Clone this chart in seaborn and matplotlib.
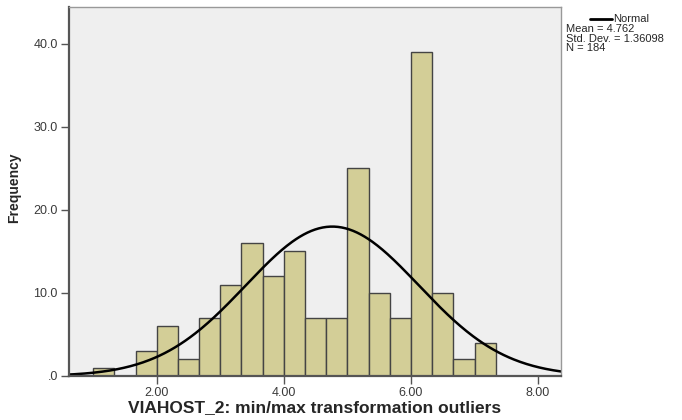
import numpy as np
import pandas as pd
import matplotlib
matplotlib.use("Agg")
import matplotlib.pyplot as plt
import seaborn as sns

# Data
bin_start = 1.0
bin_width = 1.0 / 3.0
counts = [1, 0, 3, 6, 2, 7, 11, 16, 12, 15, 7, 7, 25, 10, 7, 39, 10, 2, 4]
mean_val = 4.762
sd_val = 1.36098
n_val = 184
x_ticks = [2, 4, 6, 8]
x_tick_labels = ["2.00", "4.00", "6.00", "8.00"]
y_ticks = [0, 10, 20, 30, 40]
y_tick_labels = [".0", "10.0", "20.0", "30.0", "40.0"]
x_label = "VIAHOST_2: min/max transformation outliers"
y_label = "Frequency"

sns.set_style("white")
plt.rcParams["font.family"] = ["Liberation Sans", "DejaVu Sans"]

edges = [float(e) for e in bin_start + bin_width * np.arange(len(counts) + 1)]
centers = [(edges[i] + edges[i + 1]) / 2 for i in range(len(counts))]
df = pd.DataFrame({"x": centers, "w": counts})

fig = plt.figure(figsize=(6.82, 4.20), dpi=100)
ax = fig.add_axes([69 / 682, 1 - 376 / 420, (561 - 69) / 682, (376 - 7) / 420])
ax.set_facecolor("#efefef")

sns.histplot(data=df, x="x", weights="w", bins=edges, ax=ax,
             color="#d3ce97", edgecolor="#444444", linewidth=1.0, alpha=1.0)

xs = np.linspace(0.5, 8.5, 400)
ys = n_val * bin_width / (sd_val * np.sqrt(2 * np.pi)) * np.exp(-0.5 * ((xs - mean_val) / sd_val) ** 2)
sns.lineplot(x=xs, y=ys, ax=ax, color="black", linewidth=1.8)

ax.set_xlim(0.62, 8.36)
ax.set_ylim(0, 44.4)
ax.set_xticks(x_ticks)
ax.set_xticklabels(x_tick_labels, fontsize=9, color="#3a3a3a")
ax.set_yticks(y_ticks)
ax.set_yticklabels(y_tick_labels, fontsize=9, color="#3a3a3a")
ax.tick_params(axis="both", which="major", bottom=True, left=True, direction="out",
               length=6, width=1, color="#555555", pad=2)
ax.set_xlabel(x_label, fontsize=12.5, fontweight="bold", labelpad=1)
ax.set_ylabel(y_label, fontsize=10, fontweight="bold",
              family=["Liberation Sans Narrow", "Liberation Sans", "DejaVu Sans"])
ax.yaxis.set_label_coords(-(69 - 21) / (561 - 69), 0.51)
for side in ["left", "bottom"]:
    ax.spines[side].set_color("#555555")
    ax.spines[side].set_linewidth(1.6)
for side in ["top", "right"]:
    ax.spines[side].set_color("#999999")
    ax.spines[side].set_linewidth(1.0)

# legend / stats box
fig.add_artist(plt.Line2D([590 / 682, 612 / 682], [1 - 19 / 420, 1 - 19 / 420], color="black", linewidth=2))
fig.text(613 / 682, 1 - 19 / 420, "Normal", fontsize=8, va="center", ha="left")
fig.text(566 / 682, 1 - 29 / 420, "Mean = 4.762", fontsize=8, va="center", ha="left")
fig.text(566 / 682, 1 - 38.5 / 420, "Std. Dev. = 1.36098", fontsize=8, va="center", ha="left")
fig.text(566 / 682, 1 - 48 / 420, "N = 184", fontsize=8, va="center", ha="left")

fig.savefig("out.png", dpi=100)
